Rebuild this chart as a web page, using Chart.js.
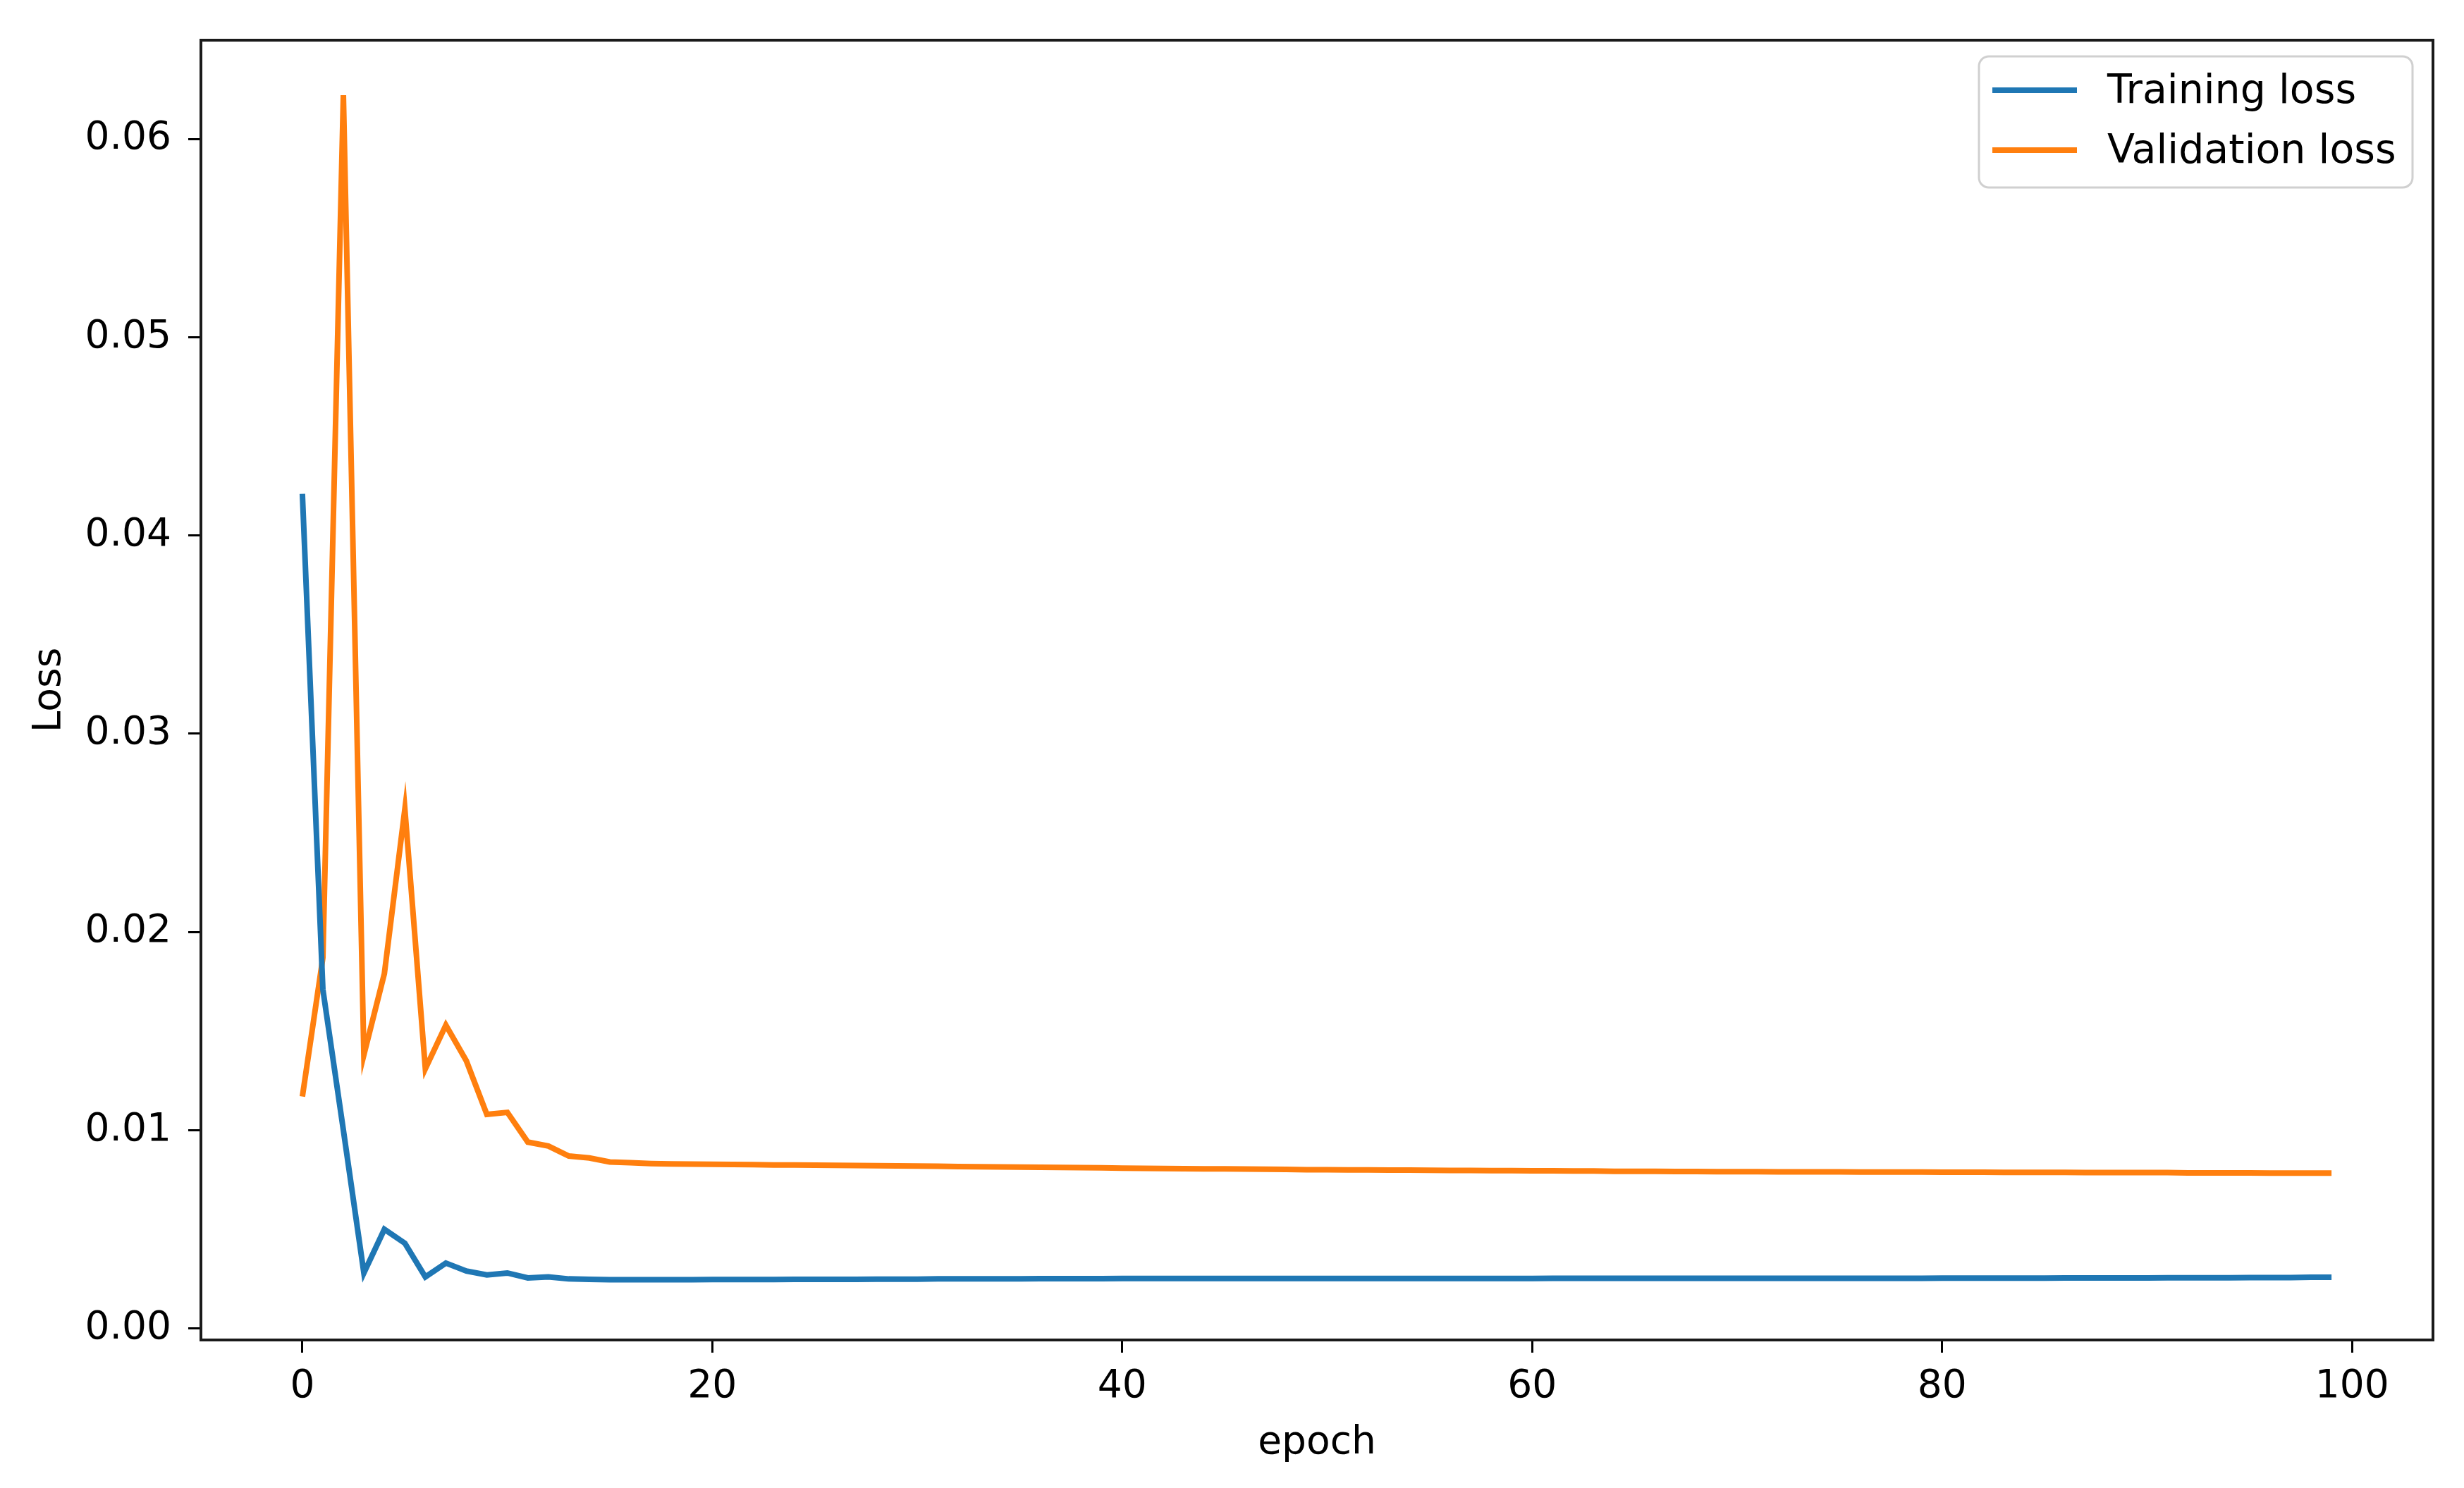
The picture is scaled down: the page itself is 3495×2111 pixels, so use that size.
<!DOCTYPE html>
<html>
<head>
<meta charset="utf-8">
<script src="https://cdn.jsdelivr.net/npm/chart.js@4.4.1/dist/chart.umd.min.js"></script>
<style>
  html, body { margin: 0; padding: 0; background: #ffffff; }
  #chart-wrap { width: 3495px; height: 2111px; }
</style>
</head>
<body>
<div id="chart-wrap"><canvas id="lossChart" width="3495" height="2111"></canvas></div>
<script>
// Loss per epoch (epochs 0..99)
const trainLoss = [
  0.0421, 0.0171, 0.0100, 0.0028, 0.0050, 0.0043, 0.0026, 0.0033, 0.0029, 0.0027,
  0.0028, 0.00255, 0.0026, 0.0025, 0.00248, 0.00246, 0.00246, 0.00246, 0.00246, 0.00246,
  0.00247, 0.00247, 0.00247, 0.00247, 0.00248, 0.00248, 0.00248, 0.00248, 0.00249, 0.00249,
  0.00249, 0.0025, 0.0025, 0.0025, 0.0025, 0.0025, 0.00251, 0.00251, 0.00251, 0.00251,
  0.00252, 0.00252, 0.00252, 0.00252, 0.00252, 0.00252, 0.00252, 0.00252, 0.00252, 0.00252,
  0.00252, 0.00252, 0.00252, 0.00252, 0.00252, 0.00252, 0.00252, 0.00252, 0.00252, 0.00252,
  0.00252, 0.00253, 0.00253, 0.00253, 0.00253, 0.00253, 0.00253, 0.00253, 0.00253, 0.00253,
  0.00253, 0.00253, 0.00253, 0.00253, 0.00253, 0.00253, 0.00253, 0.00253, 0.00253, 0.00253,
  0.00254, 0.00254, 0.00254, 0.00254, 0.00254, 0.00254, 0.00255, 0.00255, 0.00255, 0.00255,
  0.00255, 0.00256, 0.00256, 0.00256, 0.00256, 0.00257, 0.00257, 0.00257, 0.00258, 0.00258
];
const valLoss = [
  0.0117, 0.0187, 0.0622, 0.0138, 0.0179, 0.0262, 0.0131, 0.0153, 0.0135, 0.0108,
  0.0109, 0.0094, 0.0092, 0.0087, 0.0086, 0.0084, 0.00836, 0.00832, 0.0083, 0.00829,
  0.00828, 0.00827, 0.00826, 0.00825, 0.00825, 0.00824, 0.00823, 0.00822, 0.00821, 0.0082,
  0.00819, 0.00818, 0.00817, 0.00816, 0.00815, 0.00814, 0.00813, 0.00812, 0.00811, 0.0081,
  0.00809, 0.00808, 0.00807, 0.00806, 0.00805, 0.00805, 0.00804, 0.00803, 0.00802, 0.00801,
  0.00801, 0.008, 0.008, 0.00799, 0.00799, 0.00798, 0.00797, 0.00797, 0.00796, 0.00796,
  0.00795, 0.00795, 0.00794, 0.00794, 0.00793, 0.00793, 0.00793, 0.00792, 0.00792, 0.00791,
  0.00791, 0.00791, 0.0079, 0.0079, 0.0079, 0.0079, 0.00789, 0.00789, 0.00789, 0.00789,
  0.00788, 0.00788, 0.00788, 0.00787, 0.00787, 0.00787, 0.00787, 0.00786, 0.00786, 0.00786,
  0.00786, 0.00786, 0.00785, 0.00785, 0.00785, 0.00785, 0.00784, 0.00784, 0.00784, 0.00784
];
const seriesNames = ["Training loss", "Validation loss"];
const seriesColors = ["#1f77b4", "#ff7f0e"];
const xTicks = [0, 20, 40, 60, 80, 100];
const yTicks = [0.00, 0.01, 0.02, 0.03, 0.04, 0.05, 0.06];

const FONT = "'DejaVu Sans', 'Liberation Sans', sans-serif";

// box around the plot, like matplotlib spines
const frame = {
  id: "frame",
  afterDatasetsDraw(chart) {
    const { ctx, chartArea: a } = chart;
    ctx.save();
    ctx.strokeStyle = "#1a1a1a";
    ctx.lineWidth = 4;
    ctx.strokeRect(a.left, a.top, a.right - a.left, a.bottom - a.top);
    ctx.restore();
  }
};

// legend box in the upper right corner
const boxLegend = {
  id: "boxLegend",
  afterDraw(chart) {
    const ctx = chart.ctx;
    const x0 = 2807, y0 = 80, w = 615, h = 186, r = 14;
    ctx.save();
    ctx.beginPath();
    ctx.roundRect(x0, y0, w, h, r);
    ctx.fillStyle = "rgba(255,255,255,0.8)";
    ctx.fill();
    ctx.strokeStyle = "#d0d0d0";
    ctx.lineWidth = 3;
    ctx.stroke();
    ctx.font = "57px " + FONT;
    ctx.textBaseline = "middle";
    chart.data.datasets.forEach((ds, i) => {
      const y = 128 + i * 85;
      ctx.strokeStyle = ds.borderColor;
      ctx.lineWidth = 8;
      ctx.beginPath();
      ctx.moveTo(2826, y);
      ctx.lineTo(2946, y);
      ctx.stroke();
      ctx.fillStyle = "#000000";
      ctx.fillText(ds.label, 2989, y + 3);
    });
    ctx.restore();
  }
};

const ctx = document.getElementById("lossChart").getContext("2d");

new Chart(ctx, {
  type: "line",
  plugins: [frame, boxLegend],
  data: {
    datasets: [
      {
        label: seriesNames[0],
        data: trainLoss.map((v, i) => ({ x: i, y: v })),
        borderColor: seriesColors[0],
        borderWidth: 8,
        pointRadius: 0,
        tension: 0,
        fill: false
      },
      {
        label: seriesNames[1],
        data: valLoss.map((v, i) => ({ x: i, y: v })),
        borderColor: seriesColors[1],
        borderWidth: 8,
        pointRadius: 0,
        tension: 0,
        fill: false
      }
    ]
  },
  options: {
    responsive: false,
    animation: false,
    layout: { padding: { top: 53, right: 44, left: 0, bottom: 0 } },
    plugins: {
      legend: { display: false },
      tooltip: { enabled: false }
    },
    scales: {
      x: {
        type: "linear",
        min: -4.95,
        max: 103.95,
        afterBuildTicks: (axis) => { axis.ticks = xTicks.map(v => ({ value: v })); },
        afterFit: (axis) => { axis.height = 210; },
        grid: { drawOnChartArea: false, drawTicks: true, tickLength: 18, tickWidth: 3, tickColor: "#000000" },
        border: { display: false },
        ticks: {
          color: "#000000",
          font: { family: FONT, size: 55 },
          padding: 16,
          maxRotation: 0,
          callback: (v) => String(v)
        },
        title: {
          display: true,
          text: "epoch",
          color: "#000000",
          font: { family: FONT, size: 55 },
          padding: { top: 0, bottom: 30 }
        }
      },
      y: {
        type: "linear",
        min: -0.00058,
        max: 0.06498,
        afterBuildTicks: (axis) => { axis.ticks = yTicks.map(v => ({ value: v })); },
        afterFit: (axis) => { axis.width = 285; },
        grid: { drawOnChartArea: false, drawTicks: true, tickLength: 18, tickWidth: 3, tickColor: "#000000" },
        border: { display: false },
        ticks: {
          color: "#000000",
          font: { family: FONT, size: 55 },
          padding: 24,
          callback: (v) => v.toFixed(2)
        },
        title: {
          display: true,
          text: "Loss",
          color: "#000000",
          font: { family: FONT, size: 55 },
          padding: { top: 38, bottom: 0 }
        }
      }
    }
  }
});
</script>
</body>
</html>
